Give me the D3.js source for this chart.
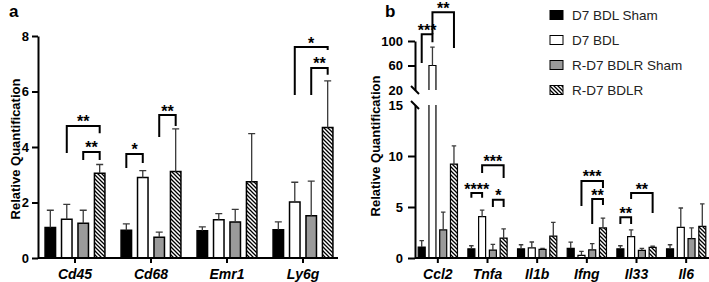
<!DOCTYPE html>
<html>
<head>
<meta charset="utf-8">
<script src="https://cdn.jsdelivr.net/npm/d3@7"></script>
<style>
body { margin: 0; background: #fff; }
svg { display: block; font-family: "Liberation Sans", Arial, sans-serif; }
</style>
</head>
<body>
<svg width="709" height="282"></svg>
<script>
// groups / series
const seriesNames = ["D7 BDL Sham", "D7 BDL", "R-D7 BDLR Sham", "R-D7 BDLR"]

// panel a
const genesA = ["Cd45", "Cd68", "Emr1", "Ly6g"]
const meanA = [
	[1.1, 1.4, 1.25, 3.05],
	[1.0, 2.9, 0.75, 3.12],
	[0.98, 1.38, 1.3, 2.75],
	[1.02, 2.02, 1.52, 4.7]
]
const sdA = [
	[0.62, 0.53, 0.47, 0.32],
	[0.23, 0.25, 0.18, 1.53],
	[0.14, 0.22, 0.45, 1.73],
	[0.28, 0.71, 1.25, 1.68]
]
const ticksA = [0, 2, 4, 6, 8]
// gene, from series, to series, bar level, left leg end, right leg end, label
const bracketsA = [
	["Cd45", 1, 3, 4.76, 3.78, 4.5, "**"],
	["Cd45", 2, 3, 3.82, 3.53, 3.53, "**"],
	["Cd68", 0, 1, 3.75, 3.24, 3.42, "*"],
	["Cd68", 2, 3, 5.15, 4.36, 4.76, "**"],
	["Ly6g", 1, 3, 7.6, 5.87, 7.5, "*"],
	["Ly6g", 2, 3, 6.85, 5.87, 6.6, "**"]
]

// panel b (broken axis: 0-15 below, 20-100 above)
const genesB = ["Ccl2", "Tnfa", "Il1b", "Ifng", "Il33", "Il6"]
const meanB = [
	[1.08, 60, 2.75, 9.2],
	[0.9, 4.05, 0.78, 1.95],
	[0.9, 1.0, 0.85, 2.15],
	[0.95, 0.25, 0.8, 2.95],
	[0.9, 2.1, 0.75, 1.05],
	[0.9, 3.0, 1.9, 3.1]
]
const sdB = [
	[0.62, 30, 1.75, 1.8],
	[0.3, 0.65, 0.55, 0.9],
	[0.4, 0.57, 0.1, 1.35],
	[0.6, 0.4, 0.6, 0.95],
	[0.3, 0.65, 0.2, 0.1],
	[0.4, 1.9, 1.05, 2.2]
]
const ticksBLow = [0, 5, 10, 15]
const ticksBHigh = [20, 60, 100]
const bracketsB = [
	["Ccl2", 0, 1, 111, 64, 98, "***"],
	["Ccl2", 1, 3, 147, 111, 88.6, "**"],
	["Tnfa", 0, 1, 6.37, 5.9, 5.9, "****"],
	["Tnfa", 2, 3, 5.7, 5.0, 5.0, "*"],
	["Tnfa", 1, 3, 9.1, 8.33, 7.84, "***"],
	["Ifng", 1, 3, 7.55, 5.1, 6.86, "***"],
	["Ifng", 2, 3, 5.78, 3.33, 5.2, "**"],
	["Il33", 0, 1, 4.0, 3.33, 3.33, "**"],
	["Il33", 1, 3, 6.37, 5.78, 4.4, "**"]
]

let svg = d3.select('svg')

const defs = svg.append('defs')
const pat = defs.append('pattern')
	.attr('id', 'hatch')
	.attr('patternUnits', 'userSpaceOnUse')
	.attr('width', 4).attr('height', 4)
pat.append('rect').attr('width', 4).attr('height', 4).attr('fill', '#fff')
pat.append('path')
	.attr('d', 'M-1,-1L5,5M3,-1L5,1M-1,3L1,5')
	.attr('stroke', '#000').attr('stroke-width', 1.3)

const fills = ['#000', '#fff', '#9a9a9a', 'url(#hatch)']

function styleAxis(g) {
	g.select('.domain').attr('stroke', '#000').attr('stroke-width', 2)
	g.selectAll('.tick line').attr('stroke', '#000').attr('stroke-width', 2)
	g.selectAll('.tick text').attr('fill', '#000').attr('font-weight', 'bold').attr('font-size', 13)
}

function drawPanel(o) {
	const g = svg.append('g')
	const x0 = d3.scaleBand().domain(o.genes).range(o.xRange)
	const half = x0.step() * 0.433
	const x1 = d3.scaleBand().domain(d3.range(4)).range([-half, half])
	const cx = (gene, s) => x0(gene) + x0.bandwidth() / 2 + x1(s) + x1.bandwidth() / 2
	const y = o.y

	const rows = o.genes.flatMap((gene, gi) => o.means[gi].map((m, si) => ({
		gene, si, m, sd: o.sds[gi][si]
	})))

	// bars
	g.append('g').selectAll('path')
		.data(rows)
		.join('path')
		.attr('fill', d => fills[d.si])
		.attr('stroke', '#000')
		.attr('stroke-width', o.barStroke)
		.attr('d', d => {
			const l = cx(d.gene, d.si) - o.barW / 2, r = l + o.barW
			if (o.breakAt && d.m > o.breakAt) {
				// broken bar: open at the gap
				return `M${l},${o.gapLow}V${y(0)}H${r}V${o.gapLow}` +
					`M${l},${o.gapHigh}V${y(d.m)}H${r}V${o.gapHigh}`
			}
			return `M${l},${y(0)}V${y(d.m)}H${r}V${y(0)}Z`
		})

	// error bars (upper only)
	g.append('g').selectAll('path')
		.data(rows)
		.join('path')
		.attr('fill', 'none')
		.attr('stroke', '#3a3a3a')
		.attr('stroke-width', 1.3)
		.attr('d', d => {
			const c = cx(d.gene, d.si)
			const top = y(d.m + d.sd)
			return `M${c},${y(d.m)}V${top}M${c - o.cap / 2},${top}H${c + o.cap / 2}`
		})

	// x axis
	const xa = g.append('g')
		.attr('transform', `translate(0,${y(0)})`)
		.call(d3.axisBottom(x0).tickSize(5).tickSizeOuter(0).tickPadding(6))
	styleAxis(xa)
	xa.select('.domain').attr('d', `M${o.axisX},0H${o.xEnd}`)
	xa.selectAll('.tick text').attr('font-style', 'italic').attr('font-size', 14)

	// brackets
	const bg = g.append('g')
	o.brackets.forEach(b => {
		const [gene, s0, s1, h, l, r, lab] = b
		const xl = cx(gene, s0), xr = cx(gene, s1)
		bg.append('path')
			.attr('fill', 'none')
			.attr('stroke', '#000')
			.attr('stroke-width', 2)
			.attr('d', `M${xl},${y(l)}V${y(h)}H${xr}V${y(r)}`)
		bg.append('text')
			.attr('x', (xl + xr) / 2)
			.attr('y', y(h) + 1.5)
			.attr('text-anchor', 'middle')
			.attr('font-weight', 'bold')
			.attr('font-size', 16)
			.text(lab)
	})

	// y title
	g.append('text')
		.attr('transform', `translate(${o.titleX},${o.titleY}) rotate(-90)`)
		.attr('text-anchor', 'middle')
		.attr('font-weight', 'bold')
		.attr('font-size', 13)
		.text('Relative Quantification')

	g.append('text')
		.attr('x', o.letterX).attr('y', 17)
		.attr('font-weight', 'bold')
		.attr('font-size', 17)
		.text(o.letter)
	return g
}

// ---- panel a
const yA = d3.scaleLinear().domain([0, 8]).range([258, 36])
const gA = drawPanel({
	genes: genesA, means: meanA, sds: sdA, brackets: bracketsA,
	xRange: [37, 341], axisX: 38, xEnd: 338, y: yA,
	barW: 10.5, cap: 7, barStroke: 1.5,
	titleX: 20, titleY: 149, letter: 'a', letterX: 9
})
const yaxA = gA.append('g')
	.attr('transform', 'translate(38,0)')
	.call(d3.axisLeft(yA).tickValues(ticksA).tickSize(6).tickPadding(3).tickSizeOuter(0))
styleAxis(yaxA)

// ---- panel b
const yLow = d3.scaleLinear().domain([0, 15]).range([258, 105])
const yHigh = d3.scaleLinear().domain([20, 100]).range([90, 41])
const yB = v => v <= 17.5 ? yLow(v) : yHigh(v)
const gB = drawPanel({
	genes: genesB, means: meanB, sds: sdB, brackets: bracketsB,
	xRange: [413, 711], axisX: 415, xEnd: 709, y: yB,
	barW: 7, cap: 4.5, barStroke: 1.2,
	breakAt: 17.5, gapLow: yLow(15), gapHigh: yHigh(20),
	titleX: 380, titleY: 146, letter: 'b', letterX: 385
})
const yaxLow = gB.append('g')
	.attr('transform', 'translate(415,0)')
	.call(d3.axisLeft(yLow).tickValues(ticksBLow).tickSize(7).tickPadding(5).tickSizeOuter(0))
styleAxis(yaxLow)
yaxLow.selectAll('.tick').filter(d => d === 15).select('line').remove()
const yaxHigh = gB.append('g')
	.attr('transform', 'translate(415,0)')
	.call(d3.axisLeft(yHigh).tickValues(ticksBHigh).tickSize(7).tickPadding(5).tickSizeOuter(0))
styleAxis(yaxHigh)
yaxHigh.selectAll('.tick').filter(d => d === 20).select('line').remove()

// break marks
;[yHigh(20), yLow(15)].forEach(v => {
	gB.append('line')
		.attr('x1', 411).attr('y1', v - 4)
		.attr('x2', 419).attr('y2', v + 4)
		.attr('stroke', '#000').attr('stroke-width', 2)
})

// ---- legend
const leg = svg.append('g')
	.selectAll('g')
	.data(seriesNames)
	.join('g')
	.attr('transform', (d, i) => `translate(550,${15 + i * 25})`)
leg.append('rect')
	.attr('x', 0).attr('y', -4.5)
	.attr('width', 13).attr('height', 9)
	.attr('fill', (d, i) => fills[i])
	.attr('stroke', '#000')
	.attr('stroke-width', 1)
leg.append('text')
	.attr('x', 22).attr('y', 5)
	.attr('font-size', 13.5)
	.attr('fill', '#222')
	.text(d => d)
</script>
</body>
</html>
